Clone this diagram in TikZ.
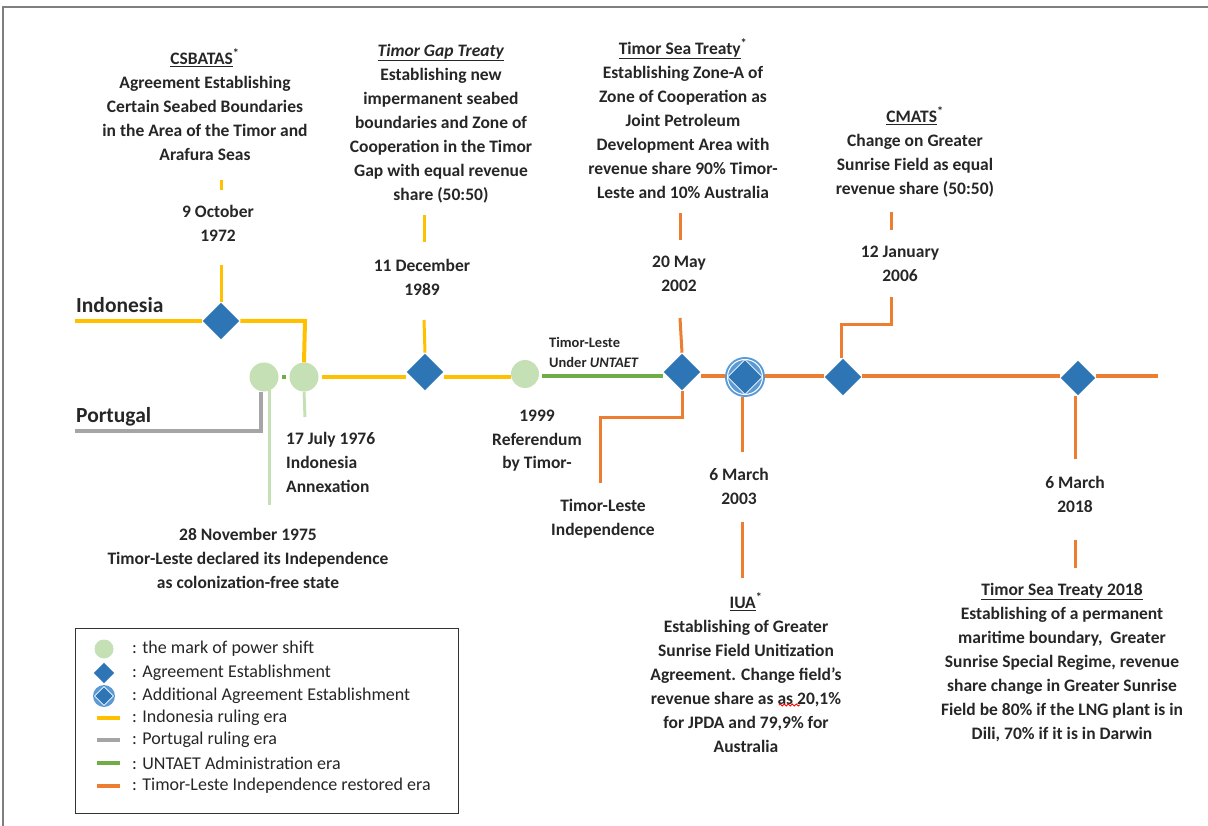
\documentclass[tikz,border=0pt]{standalone}
\usepackage{fontspec}
\setmainfont{Carlito}
\usetikzlibrary{shapes.geometric,decorations.pathmorphing}
\definecolor{indo}{HTML}{FFC000}
\definecolor{port}{HTML}{A5A5A5}
\definecolor{untaet}{HTML}{70AD47}
\definecolor{shiftc}{HTML}{C5E0B4}
\definecolor{tl}{HTML}{ED7D31}
\definecolor{agr}{HTML}{2E75B6}
\definecolor{agrl}{HTML}{5B9BD5}
\definecolor{framec}{HTML}{7F7F7F}
\newcommand{\myast}{\textsuperscript{*}}
\tikzset{
  blk/.style={font=\fontsize{17.5}{24}\selectfont\bfseries, align=center, inner sep=0pt, anchor=north, text=black!85},
  lbl/.style={font=\fontsize{21.5}{24}\selectfont\bfseries, inner sep=0pt, anchor=north west, text=black!85},
  leg/.style={font=\fontsize{18}{20}\selectfont, inner sep=0pt, anchor=west, text=black!85},
  dia/.style={diamond, aspect=1, minimum size=38pt, inner sep=0pt, fill=agr, draw=white, line width=0.6pt},
  shiftmark/.style={circle, minimum size=29pt, inner sep=0pt, fill=shiftc},
  main/.style={line width=4pt},
  tick/.style={line width=3pt},
}
\begin{document}
\begin{tikzpicture}[x=1pt,y=-1pt]
\useasboundingbox (0,0) rectangle (1208,826);
% frame
\draw[framec, line width=1.5pt] (3,826) -- (3,7) -- (1208,7);

% ---- nodes on the time line
\node[dia] (d1972) at (221,321) {};
\node[shiftmark] (c1975) at (264,377) {};
\node[shiftmark] (c1976) at (304,377) {};
\node[fill=untaet, minimum size=4pt, inner sep=0pt] (dot) at (284,377) {};
\node[dia] (d1989) at (425,372) {};
\node[shiftmark, minimum size=28pt] (c1999) at (525,374) {};
\node[dia] (d2002) at (682,372) {};
\node[circle, minimum size=40pt, inner sep=0pt, fill=agrl] (d2003) at (745,377) {};
\draw[white, line width=1pt] (d2003.center) circle (17.5pt);
\node[dia, minimum size=35pt] (d2003i) at (745,377) {};
\node[dia] (d2006) at (843,377) {};
\node[dia, minimum size=36pt] (d2018) at (1078,378) {};

% named coordinates
\coordinate (indoL) at (75,321);
\coordinate (indoR) at (305,321);
\coordinate (portL) at (75,431);
\coordinate (portR) at (261,431);
\coordinate (tlEnd) at (1158,376);

% ---- era lines
\draw[indo, main] (indoL) -- (d1972.west);
\draw[indo, main] (d1972.east) -- (indoR) -- (c1976.north);
\draw[port, main] (portL) -- (portR) -- (portR |- c1975.south);
\draw[indo, main] (c1976.east) ++(3,0) -- (d1989.west |- c1976.east);
\draw[indo, main] (d1989.east |- c1976.east) -- (c1999.west |- c1976.east);
\draw[untaet, main] (c1999.east |- c1976.east) ++(3,-1) coordinate (gA) -- (d2002.west |- gA);
\draw[tl, main] (d2002.east |- gA) -- (d2003.west |- gA);
\draw[tl, main] (d2003.east |- gA) -- (d2006.west |- gA);
\draw[tl, main] (d2006.east |- gA) -- (d2018.west |- gA);
\draw[tl, main] (d2018.east |- gA) -- (tlEnd);

% ---- text blocks above
\node[blk] (tCSB) at (205,49) {\underline{CSBATAS}\myast\\Agreement Establishing\\Certain Seabed Boundaries\\in the Area of the Timor and\\Arafura Seas};
\node[blk] (t1972) at (218,205) {9 October\\1972};
\node[blk] (tTGT) at (441,44) {\underline{\textit{Timor Gap Treaty}}\\Establishing new\\impermanent seabed\\boundaries and Zone of\\Cooperation in the Timor\\Gap with equal revenue\\share (50:50)};
\node[blk] (t1989) at (422,259) {11 December\\1989};
\node[blk] (tTST) at (683,39) {\underline{Timor Sea Treaty}\myast\\Establishing Zone-A of\\Zone of Cooperation as\\Joint Petroleum\\Development Area with\\revenue share 90\% Timor-\\Leste and 10\% Australia};
\node[blk] (t2002) at (679,256) {20 May\\2002};
\node[blk] (tCMATS) at (915,107) {\underline{CMATS}\myast\\Change on Greater\\Sunrise Field as equal\\revenue share (50:50)};
\node[blk] (t2006) at (900,246) {12 January\\2006};

% ---- text blocks below
\node[blk, align=left, anchor=north west] (t1976) at (286,432) {17 July 1976\\Indonesia\\Annexation};
\node[blk, font=\fontsize{17.5}{23.5}\selectfont\bfseries] (t1999) at (537,410) {1999\\Referendum\\by Timor-};
\node[blk] (tInd) at (603,499) {Timor-Leste\\Independence};
\node[blk] (t1975) at (248,528) {28 November 1975\\Timor-Leste declared its Independence\\as colonization-free state};
\node[blk, align=left, anchor=north west, font=\fontsize{14.5}{20}\selectfont\bfseries] (tUN) at (549,337) {Timor-Leste\\Under \textit{UNTAET}};
\node[blk] (t2003) at (739,468) {6 March\\2003};
\node[blk] (tIUA) at (746,593) {\underline{IUA}\myast\\Establishing of Greater\\Sunrise Field Unitization\\Agreement. Change field’s\\revenue share as as 20,1\%\\for JPDA and 79,9\% for\\Australia};
\node[blk] (t2018) at (1075,476) {6 March\\2018};
\node[blk] (tTST18) at (1062,583) {\underline{Timor Sea Treaty 2018}\\Establishing of a permanent\\maritime boundary,\ \ Greater\\Sunrise Special Regime, revenue\\share change in Greater Sunrise\\Field be 80\% if the LNG plant is in\\Dili, 70\% if it is in Darwin};
\draw[red, line width=0.8pt, decorate, decoration={snake, amplitude=1pt, segment length=4pt}] (779,705) -- (800,705);

% ---- country labels
\node[lbl] (lIndo) at (76,297) {Indonesia};
\node[lbl] (lPort) at (76,407) {Portugal};

% ---- connectors
\coordinate (k1972a) at (221,180); \coordinate (k1972b) at (221,190);
\coordinate (k1972c) at (221,265);
\draw[indo, tick] (k1972a) -- (k1972b);
\draw[indo, tick] (k1972c) -- (d1972.north);

\coordinate (k1975a) at (269,386); \coordinate (k1975b) at (269,505);
\draw[shiftc, tick] (k1975a) -- (k1975b);
\coordinate (k1976b) at (305,417);
\draw[shiftc, tick] (c1976.south) -- (k1976b);

\coordinate (k1989a) at (424,215); \coordinate (k1989b) at (424,242);
\coordinate (k1989c) at (424,320);
\draw[indo, tick] (k1989a) -- (k1989b);
\draw[indo, tick] (k1989c) -- (d1989.north);

\coordinate (k2002a) at (680,213); \coordinate (k2002b) at (680,240);
\coordinate (k2002c) at (680,318);
\draw[tl, tick] (k2002a) -- (k2002b);
\draw[tl, tick] (k2002c) -- (d2002.north);
\coordinate (k2002d) at (682,417); \coordinate (k2002e) at (600,417); \coordinate (k2002f) at (600,483);
\draw[tl, tick] (d2002.south) -- (k2002d) -- (k2002e) -- (k2002f);

\coordinate (k2003a) at (742,452); \coordinate (k2003b) at (742,522); \coordinate (k2003c) at (742,578);
\draw[tl, tick] (d2003.south -| k2003a) -- (k2003a);
\draw[tl, tick] (k2003b) -- (k2003c);

\coordinate (k2006a) at (891,212); \coordinate (k2006b) at (891,230);
\coordinate (k2006c) at (891,297); \coordinate (k2006d) at (891,325); \coordinate (k2006e) at (841,325);
\draw[tl, tick] (k2006a) -- (k2006b);
\draw[tl, tick] (k2006c) -- (k2006d) -- (k2006e) -- (k2006e |- d2006.north);

\coordinate (k2018a) at (1075,459); \coordinate (k2018b) at (1075,540); \coordinate (k2018c) at (1075,568);
\draw[tl, tick] (d2018.south -| k2018a) -- (k2018a);
\draw[tl, tick] (k2018b) -- (k2018c);

% ---- legend
\node[draw=black!80, line width=1.2pt, minimum width=383pt, minimum height=185pt, inner sep=0pt, anchor=north west] (legend) at (75,628) {};
\node[circle, fill=shiftc, minimum size=19pt, inner sep=0pt] (ls1) at (104,649) {};
\node[dia, minimum size=22pt] (ls2) at (104,673) {};
\node[circle, fill=agrl, minimum size=22pt, inner sep=0pt] (ls3) at (104,696) {};
\node[dia, minimum size=19pt] (ls3i) at (104,696) {};
\coordinate (l4a) at (97,718); \coordinate (l4b) at (120,718);
\coordinate (l5a) at (97,740); \coordinate (l5b) at (120,740);
\coordinate (l6a) at (97,763); \coordinate (l6b) at (120,763);
\coordinate (l7a) at (97,786); \coordinate (l7b) at (120,786);
\draw[indo, main] (l4a) -- (l4b);
\draw[port, main] (l5a) -- (l5b);
\draw[untaet, main] (l6a) -- (l6b);
\draw[tl, main] (l7a) -- (l7b);
\node[leg] (lt1) at (132,649) {: the mark of power shift};
\node[leg] (lt2) at (132,673) {: Agreement Establishment};
\node[leg] (lt3) at (132,696) {: Additional Agreement Establishment};
\node[leg] (lt4) at (132,718) {: Indonesia ruling era};
\node[leg] (lt5) at (132,740) {: Portugal ruling era};
\node[leg] (lt6) at (132,763) {: UNTAET Administration era};
\node[leg] (lt7) at (132,786) {: Timor-Leste Independence restored era};
\end{tikzpicture}
\end{document}
